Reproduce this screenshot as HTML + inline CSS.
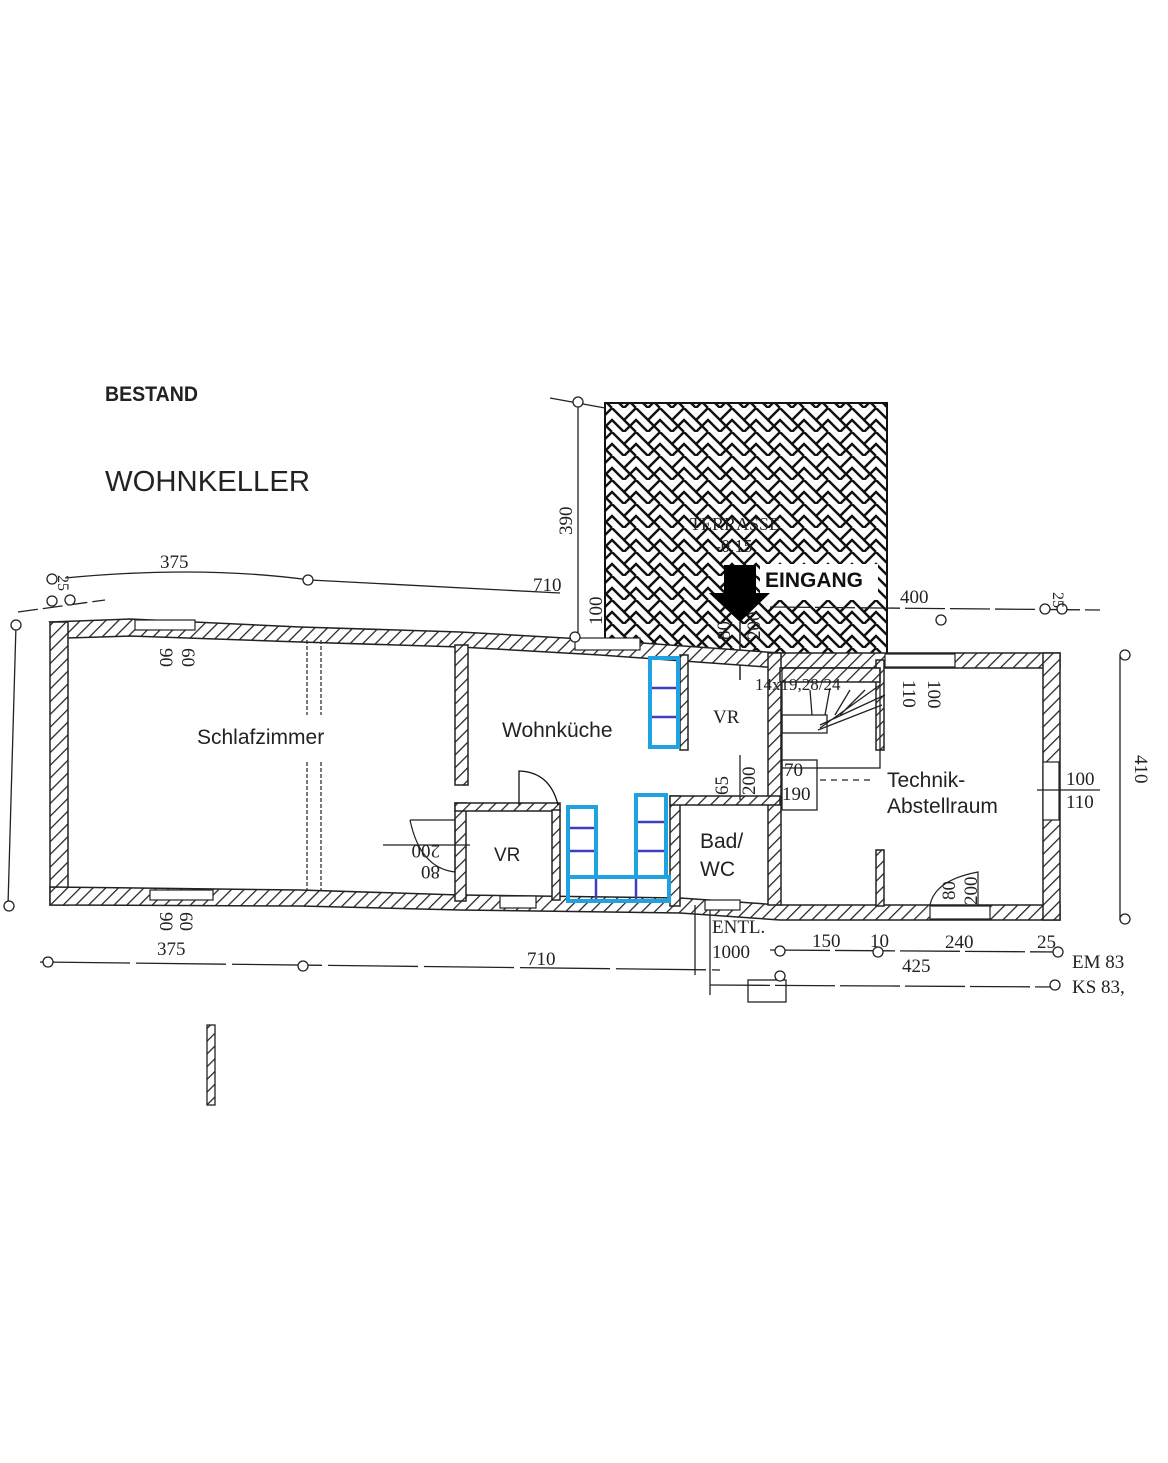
<!DOCTYPE html>
<html><head><meta charset="utf-8"><style>
html,body{margin:0;padding:0;background:#fff;}
svg{display:block;}
text{font-family:"Liberation Sans",sans-serif;}
.dim text, text.dim{font-family:"Liberation Serif",serif;font-size:19px;fill:#222;}
</style></head><body>
<svg width="1168" height="1463" viewBox="0 0 1168 1463" xmlns="http://www.w3.org/2000/svg">
<defs>
<pattern id="hat" width="9" height="9" patternUnits="userSpaceOnUse" patternTransform="rotate(45)">
<rect width="9" height="9" fill="#fff"/><line x1="0" y1="0" x2="0" y2="9" stroke="#222" stroke-width="2.5"/>
</pattern>
<pattern id="herr" width="24" height="24" patternUnits="userSpaceOnUse">
<rect width="24" height="24" fill="#fff"/>
<path d="M0 12 L12 0 L24 12 M0 24 L12 12 L24 24 M-6 6 L6 18 M6 -6 L18 6 M18 6 L30 18 M6 18 L12 24" stroke="#111" stroke-width="2.4" fill="none"/>
</pattern>
</defs>

<text x="105" y="401" font-size="21" font-weight="bold" fill="#222" textLength="93" lengthAdjust="spacingAndGlyphs">BESTAND</text>
<text x="105" y="491" font-size="29" fill="#222" textLength="205" lengthAdjust="spacingAndGlyphs">WOHNKELLER</text>

<!-- terrace -->
<rect x="605" y="403" width="282" height="252" fill="url(#herr)" stroke="#111" stroke-width="2"/>
<text x="690" y="530" class="dim" style="font-size:18px">TERRASSE</text>
<text x="715" y="552" class="dim" style="font-size:18px">-0.15</text>
<rect x="760" y="564" width="118" height="36" fill="#fff"/>
<text x="765" y="587" font-size="21" font-weight="bold" fill="#111">EINGANG</text>
<polygon points="724,565 756,565 756,593 770,593 740,622 709,593 724,593" fill="#000"/>
<line x1="740" y1="622" x2="740" y2="680" stroke="#222" stroke-width="1.5"/>

<!-- outer walls -->
<g stroke="#222" stroke-width="1.5">
<polygon points="50,622 130,619 300,627 460,632 600,640 780,653 780,668 600,655 460,647 300,642 130,636 68,638" fill="url(#hat)"/>
<rect x="50" y="622" width="18" height="283" fill="url(#hat)"/>
<polygon points="50,887 300,890 460,895 680,898 780,905 1060,905 1060,920 780,920 680,913 460,910 300,906 50,905" fill="url(#hat)"/>
<rect x="780" y="653" width="280" height="15" fill="url(#hat)"/>
<rect x="1043" y="653" width="17" height="267" fill="url(#hat)"/>
<rect x="768" y="653" width="13" height="252" fill="url(#hat)"/>
<rect x="455" y="645" width="13" height="140" fill="url(#hat)"/>
<rect x="455" y="803" width="11" height="98" fill="url(#hat)"/>
<rect x="455" y="803" width="105" height="8" fill="url(#hat)"/>
<rect x="680" y="655" width="8" height="95" fill="url(#hat)"/>
<rect x="670" y="796" width="10" height="110" fill="url(#hat)"/>
<rect x="670" y="796" width="110" height="9" fill="url(#hat)"/>
<rect x="552" y="810" width="8" height="90" fill="url(#hat)"/>
<rect x="876" y="660" width="8" height="90" fill="url(#hat)"/>
<rect x="876" y="850" width="8" height="56" fill="url(#hat)"/>
<rect x="780" y="668" width="100" height="14" fill="url(#hat)"/>
</g>
<!-- windows -->
<g fill="#fff" stroke="#222" stroke-width="1.2">
<rect x="135" y="620" width="60" height="10"/>
<rect x="150" y="890" width="63" height="10"/>
<rect x="575" y="638" width="65" height="12"/>
<rect x="500" y="896" width="36" height="12"/>
<rect x="885" y="654" width="70" height="13"/>
<rect x="1043" y="762" width="16" height="58"/>
<rect x="930" y="906" width="60" height="13"/>
<rect x="705" y="900" width="35" height="10"/>
</g>
<!-- stair -->
<g stroke="#222" stroke-width="1.3" fill="none">
<rect x="782" y="668" width="98" height="100"/>
<rect x="782" y="715" width="45" height="18"/>
<path d="M820 728 L880 685 M820 725 L885 695 M818 730 L882 705 M810 690 L812 715 M830 688 L825 715 M850 690 L835 715 M865 690 L840 715"/>
<rect x="782" y="760" width="35" height="50"/>
<line x1="820" y1="780" x2="870" y2="780" stroke-dasharray="6,5"/>
</g>
<!-- Schlafzimmer divider -->
<g stroke="#222" stroke-width="1.2" stroke-dasharray="4,2">
<line x1="307" y1="640" x2="307" y2="715"/><line x1="321" y1="640" x2="321" y2="715"/>
<line x1="307" y1="762" x2="307" y2="890"/><line x1="321" y1="762" x2="321" y2="890"/>
</g>
<!-- doors -->
<path d="M519 805 L519 771 Q550 772 558 805" fill="none" stroke="#111" stroke-width="1.3"/>
<path d="M410 820 L455 820 L455 872 Q420 868 410 820" fill="none" stroke="#222" stroke-width="1.2"/>
<path d="M930 905 Q935 880 978 872 L978 905" fill="none" stroke="#222" stroke-width="1.2"/>

<!-- dimension lines -->
<g stroke="#222" stroke-width="1.3" fill="none">
<path d="M65 578 Q200 565 310 580 L560 593"/>
<line x1="16" y1="625" x2="8" y2="905"/>
<line x1="40" y1="962" x2="720" y2="970" stroke-dasharray="90,6"/>
<line x1="18" y1="612" x2="105" y2="600" stroke-dasharray="20,5"/>
<line x1="578" y1="402" x2="578" y2="640"/>
<line x1="550" y1="398" x2="605" y2="408"/>
<line x1="770" y1="950" x2="1060" y2="952" stroke-dasharray="60,5"/>
<line x1="710" y1="985" x2="1060" y2="987" stroke-dasharray="60,5"/>
<line x1="1120" y1="655" x2="1120" y2="920"/>
<line x1="770" y1="607" x2="1100" y2="610" stroke-dasharray="40,5"/>
<rect x="748" y="980" width="38" height="22"/>
<line x1="695" y1="905" x2="695" y2="975"/><line x1="710" y1="910" x2="710" y2="995"/>
<line x1="383" y1="845" x2="470" y2="845"/>
<line x1="1037" y1="790" x2="1100" y2="790"/>
<line x1="740" y1="755" x2="740" y2="800"/>
</g>
<g stroke="#222" stroke-width="1.3" fill="#fff">
<circle cx="52" cy="579" r="5"/><circle cx="70" cy="600" r="5"/><circle cx="52" cy="601" r="5"/>
<circle cx="16" cy="625" r="5"/><circle cx="9" cy="906" r="5"/><circle cx="308" cy="580" r="5"/>
<circle cx="578" cy="402" r="5"/><circle cx="575" cy="637" r="5"/><circle cx="48" cy="962" r="5"/>
<circle cx="303" cy="966" r="5"/><circle cx="780" cy="951" r="5"/><circle cx="878" cy="952" r="5"/>
<circle cx="1058" cy="952" r="5"/><circle cx="780" cy="976" r="5"/><circle cx="1055" cy="985" r="5"/>
<circle cx="1125" cy="655" r="5"/><circle cx="1125" cy="919" r="5"/><circle cx="1045" cy="609" r="5"/>
<circle cx="1062" cy="609" r="5"/><circle cx="941" cy="620" r="5"/>
</g>
<!-- dims text -->
<g class="dim">
<text x="160" y="568">375</text><text x="533" y="591">710</text>
<text x="157" y="955">375</text><text x="527" y="965">710</text>
<text x="812" y="947">150</text><text x="870" y="947">10</text><text x="945" y="948">240</text>
<text x="1037" y="948">25</text><text x="902" y="972">425</text>
<text x="1072" y="968">EM 83</text><text x="1072" y="993">KS 83,</text>
<text x="712" y="933">ENTL.</text><text x="712" y="958">1000</text>
<text x="900" y="603">400</text><text x="1066" y="785">100</text><text x="1066" y="808">110</text>
<text x="784" y="776">70</text><text x="782" y="800">190</text>
<text x="755" y="690" style="font-size:17px">14x19,28/24</text>
<text x="713" y="723">VR</text>
<text transform="translate(572,535) rotate(-90)">390</text>
<text transform="translate(160,648) rotate(90)">90</text><text transform="translate(182,648) rotate(90)">60</text>
<text transform="translate(160,912) rotate(90)">90</text><text transform="translate(180,912) rotate(90)">60</text>
<text transform="translate(440,845) rotate(180)">200</text><text transform="translate(440,866) rotate(180)">80</text>
<text transform="translate(602,625) rotate(-90)">100</text>
<text transform="translate(730,640) rotate(-90)">80</text><text transform="translate(760,640) rotate(-90)">200</text>
<text transform="translate(728,795) rotate(-90)">65</text><text transform="translate(755,795) rotate(-90)">200</text>
<text transform="translate(903,680) rotate(90)">110</text><text transform="translate(928,680) rotate(90)">100</text>
<text transform="translate(955,900) rotate(-90)">80</text><text transform="translate(977,905) rotate(-90)">200</text>
<text transform="translate(1135,755) rotate(90)">410</text>
<text transform="translate(1053,592) rotate(90)" style="font-size:16px">25</text>
<text transform="translate(58,575) rotate(90)" style="font-size:16px">25</text>
</g>
<!-- small wall fragment bottom -->
<rect x="207" y="1025" width="8" height="80" fill="url(#hat)" stroke="#222" stroke-width="1.3"/>

<!-- room labels -->
<g font-size="21" fill="#222">
<text x="197" y="744">Schlafzimmer</text>
<text x="502" y="737">Wohnküche</text>
<text x="494" y="861" font-size="19">VR</text>
<text x="700" y="848">Bad/</text><text x="700" y="876">WC</text>
<text x="887" y="787">Technik-</text><text x="887" y="813">Abstellraum</text>
</g>

<!-- blue boxes -->
<g fill="none" stroke="#1fa3e0" stroke-width="4">
<rect x="650" y="658" width="28" height="89"/>
<rect x="568" y="807" width="28" height="70"/>
<rect x="636" y="795" width="30" height="82"/>
<rect x="568" y="877" width="101" height="24"/>
</g>
<g stroke="#3b3fc0" stroke-width="2.5">
<line x1="652" y1="688" x2="676" y2="688"/><line x1="652" y1="717" x2="676" y2="717"/>
<line x1="570" y1="828" x2="594" y2="828"/><line x1="570" y1="851" x2="594" y2="851"/>
<line x1="638" y1="822" x2="664" y2="822"/><line x1="638" y1="851" x2="664" y2="851"/>
<line x1="596" y1="879" x2="596" y2="899"/><line x1="636" y1="879" x2="636" y2="899"/>
</g>
</svg>
</body></html>
